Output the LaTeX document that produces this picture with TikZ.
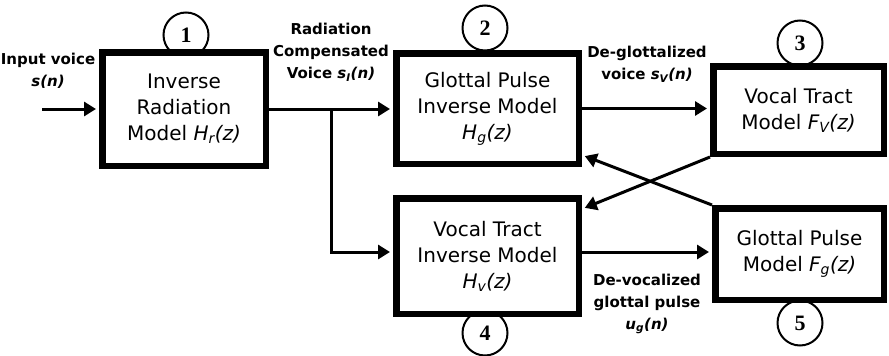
\documentclass[tikz,border=0pt]{standalone}
\usepackage{fontspec}
\setmainfont{DejaVu Sans}
\newfontfamily\numfont{Liberation Serif}
\usetikzlibrary{arrows.meta,calc}
\tikzset{
  blk/.style={draw, line width=6.5pt, fill=white, inner sep=0pt, align=center,
    font=\fontsize{20}{26}\selectfont},
  num/.style={draw, circle, line width=2pt, minimum size=45pt, inner sep=0pt,
    font=\numfont\bfseries\fontsize{22}{22}\selectfont},
  lbl/.style={align=center, inner sep=0pt, font=\bfseries\fontsize{15}{22}\selectfont},
  conn/.style={line width=3pt, -{Triangle[length=12pt,width=14pt]}},
  plain/.style={line width=3pt}
}
\begin{document}
\begin{tikzpicture}[x=1pt,y=-1pt]
\useasboundingbox (0,0) rectangle (889,356);
% numbered circles (behind boxes)
\node[num] (c1) at (186,35) {1};
\node[num] (c2) at (485,28) {2};
\node[num] (c3) at (800,43) {3};
\node[num] (c4) at (485,333) {4};
\node[num] (c5) at (800,323) {5};
% blocks
\node[blk, minimum width=163.5pt, minimum height=113.5pt] (b1) at (184,109)
  {Inverse\\Radiation\\Model {\itshape H\textsubscript{r}(z)}};
\node[blk, minimum width=182.5pt, minimum height=110.5pt] (b2) at (487.5,108.5)
  {Glottal Pulse\\Inverse Model\\{\itshape H\textsubscript{g}(z)}};
\node[blk, minimum width=170.5pt, minimum height=87.5pt] (b3) at (798.5,110)
  {Vocal Tract\\Model {\itshape F\textsubscript{V}(z)}};
\node[blk, minimum width=182.5pt, minimum height=115.5pt] (b4) at (487.5,256)
  {Vocal Tract\\Inverse Model\\{\itshape H\textsubscript{v}(z)}};
\node[blk, minimum width=168.5pt, minimum height=91.5pt] (b5) at (799.5,254)
  {Glottal Pulse\\Model {\itshape F\textsubscript{g}(z)}};
% labels
\node[lbl] (lin) at (48,71) {Input voice\\{\itshape s(n)}};
\node[lbl] (lrad) at (331,52) {Radiation\\Compensated\\Voice {\itshape s\textsubscript{I}(n)}};
\node[lbl] (ldeg) at (647,64) {De-glottalized\\voice {\itshape s\textsubscript{V}(n)}};
\node[lbl] (ldev) at (647,304) {De-vocalized\\glottal pulse\\{\itshape u\textsubscript{g}(n)}};
% coordinates
\coordinate (in) at (42,109);
\coordinate (j) at ($(b1.east)!0.5!(b2.west)$);
\coordinate (o4) at ($(b4.west)+(0,-4)$);
\coordinate (e4) at ($(b4.east)+(0,-4)$);
\coordinate (t4) at ($(b4.north east)+(0,14)$);
\coordinate (t2) at ($(b2.south east)+(0,-12)$);
% connectors
\draw[conn, shorten >=3pt] (in) -- (b1.west);
\draw[conn, shorten >=3pt] (b1.east) -- (b1.east -| b2.west);
\draw[conn, shorten >=3pt] (j) |- (o4);
\draw[conn, shorten >=3pt] (b2.east) -- (b2.east -| b3.west);
\draw[conn, shorten >=3pt] (e4) -- (e4 -| b5.west);
\draw[conn, shorten >=3pt] (b3.south west) -- (t4);
\draw[conn, shorten >=3pt] (b5.north west) -- (t2);
\end{tikzpicture}
\end{document}
